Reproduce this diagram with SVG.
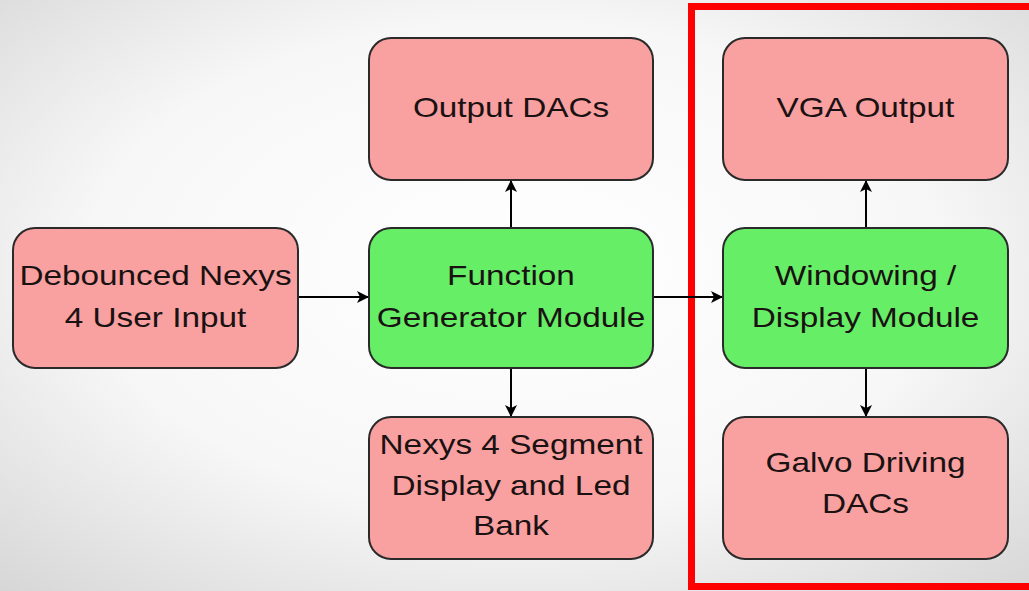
<svg xmlns="http://www.w3.org/2000/svg" width="1029" height="591" viewBox="0 0 1029 591">
<defs>
<radialGradient id="bg" cx="50%" cy="45%" r="75%">
<stop offset="0" stop-color="#ffffff"/>
<stop offset="0.55" stop-color="#f7f7f7"/>
<stop offset="1" stop-color="#d6d6d6"/>
</radialGradient>
<marker id="ah" viewBox="0 0 12 12" refX="11" refY="6" markerWidth="12" markerHeight="12" markerUnits="userSpaceOnUse" orient="auto">
<path d="M0,0 L12,6 L0,12 L3,6 Z" fill="#000"/>
</marker>
<style>
.red{fill:#f9a0a0;stroke:#2a2a2a;stroke-width:2}
.grn{fill:#66ee66;stroke:#2a2a2a;stroke-width:2}
.t{font-family:"Liberation Sans",Arial,sans-serif;font-size:28px;fill:#1a1212;text-anchor:middle}
.c{stroke:#000;stroke-width:2;fill:none;marker-end:url(#ah)}
</style>
</defs>
<rect x="0" y="0" width="1029" height="591" fill="url(#bg)"/>
<rect x="691.5" y="6.5" width="345" height="580" fill="none" stroke="#ff0000" stroke-width="7"/>
<g id="connectors">
<line class="c" x1="298" y1="297" x2="368" y2="297"/>
<line class="c" x1="653" y1="297" x2="722" y2="297"/>
<line class="c" x1="511" y1="228" x2="511" y2="181"/>
<line class="c" x1="511" y1="368" x2="511" y2="416"/>
<line class="c" x1="866" y1="228" x2="866" y2="181"/>
<line class="c" x1="866" y1="368" x2="866" y2="416"/>
</g>
<g id="debounced">
<rect class="red" x="13" y="228" width="285" height="140" rx="22"/>
<text class="t" transform="matrix(1.19 0 0 1 155.5 0)" y="285">Debounced Nexys</text>
<text class="t" transform="matrix(1.19 0 0 1 155.5 0)" y="327">4 User Input</text>
</g>
<g id="funcgen">
<rect class="grn" x="369" y="228" width="284" height="140" rx="22"/>
<text class="t" transform="matrix(1.19 0 0 1 511 0)" y="285">Function</text>
<text class="t" transform="matrix(1.19 0 0 1 511 0)" y="327">Generator Module</text>
</g>
<g id="outputdacs">
<rect class="red" x="369" y="38" width="284" height="142" rx="22"/>
<text class="t" transform="matrix(1.19 0 0 1 511 0)" y="117">Output DACs</text>
</g>
<g id="segment">
<rect class="red" x="369" y="417" width="284" height="142" rx="22"/>
<text class="t" transform="matrix(1.19 0 0 1 511 0)" y="454">Nexys 4 Segment</text>
<text class="t" transform="matrix(1.19 0 0 1 511 0)" y="495">Display and Led</text>
<text class="t" transform="matrix(1.19 0 0 1 511 0)" y="535">Bank</text>
</g>
<g id="vga">
<rect class="red" x="723" y="38" width="285" height="142" rx="22"/>
<text class="t" transform="matrix(1.19 0 0 1 865.5 0)" y="117">VGA Output</text>
</g>
<g id="windowing">
<rect class="grn" x="723" y="228" width="285" height="140" rx="22"/>
<text class="t" transform="matrix(1.19 0 0 1 865.5 0)" y="285">Windowing /</text>
<text class="t" transform="matrix(1.19 0 0 1 865.5 0)" y="327">Display Module</text>
</g>
<g id="galvo">
<rect class="red" x="723" y="417" width="285" height="142" rx="22"/>
<text class="t" transform="matrix(1.19 0 0 1 865.5 0)" y="472">Galvo Driving</text>
<text class="t" transform="matrix(1.19 0 0 1 865.5 0)" y="513">DACs</text>
</g>
</svg>
